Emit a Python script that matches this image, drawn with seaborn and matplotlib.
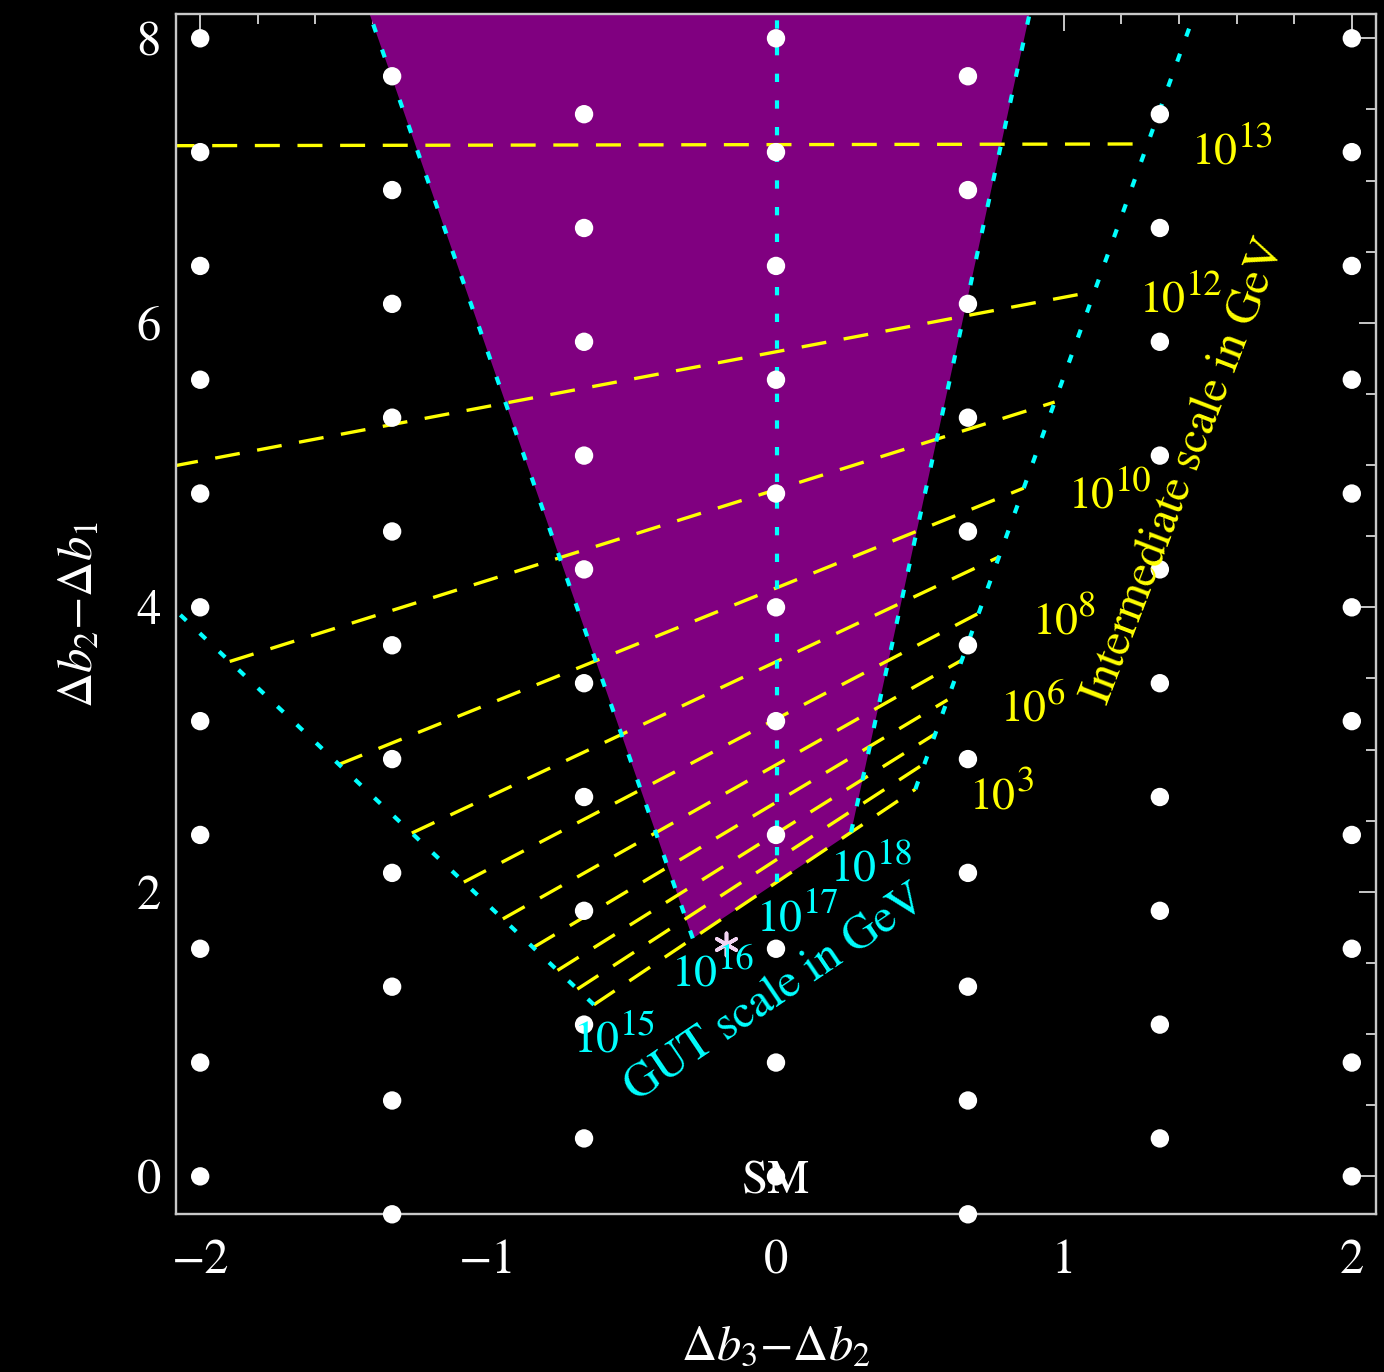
import matplotlib
matplotlib.use("Agg")
import matplotlib.pyplot as plt
from matplotlib.ticker import MultipleLocator
import numpy as np
import pandas as pd
import seaborn as sns

# ---------------------------------------------------------------------------
# Lattice of allowed (Δb3-Δb2, Δb2-Δb1) points
# ---------------------------------------------------------------------------
lattice_columns_x = [-2.0, -1.3333, -0.6667, 0.0, 0.6667, 1.3333, 2.0]
lattice_rows_a = [0.0, 0.8, 1.6, 2.4, 3.2, 4.0, 4.8, 5.6, 6.4, 7.2, 8.0]
lattice_rows_b = [-0.2667, 0.5333, 1.3333, 2.1333, 2.9333, 3.7333, 4.5333,
                  5.3333, 6.1333, 6.9333, 7.7333]
lattice_rows_c = [0.2667, 1.0667, 1.8667, 2.6667, 3.4667, 4.2667, 5.0667,
                  5.8667, 6.6667, 7.4667]
lattice_column_rows = ["a", "b", "c", "a", "b", "c", "a"]

# ---------------------------------------------------------------------------
# Contours of constant intermediate scale (yellow, dashed), 10^3 ... 10^13 GeV
# each runs from the 10^15 GeV GUT contour to the 10^19 GeV GUT contour
# ---------------------------------------------------------------------------
mi_exponents = [3, 4, 5, 6, 7, 8, 9, 10, 11, 12, 13]
mi_x_start = [-0.6325, -0.6900, -0.7590, -0.8433, -0.9487, -1.0843, -1.2650,
              -1.5180, -1.8974, -2.5299, -3.7949]
mi_y_start = [1.2065, 1.3162, 1.4478, 1.6087, 1.8098, 2.0683, 2.4130,
              2.8957, 3.6195, 4.8260, 7.2391]
mi_x_end = [0.4840, 0.5162, 0.5531, 0.5957, 0.6453, 0.7040, 0.7743,
            0.8604, 0.9679, 1.1062, 1.2906]
mi_y_end = [2.7215, 2.9030, 3.1103, 3.3496, 3.6287, 3.9586, 4.3544,
            4.8383, 5.4431, 6.2206, 7.2574]

# ---------------------------------------------------------------------------
# Contours of constant GUT scale (cyan, dotted), 10^15 ... 10^19 GeV
# ---------------------------------------------------------------------------
mg_exponents = [15, 16, 17, 18, 19]
mg_x_start = [-0.6325, -0.2890, 0.0050, 0.2607, 0.4840]
mg_y_start = [1.2065, 1.6727, 2.0722, 2.4185, 2.7215]
mg_x_end = [-2.5000, -1.5548, 0.0050, 0.9700, 1.6004]
mg_y_end = [4.7690, 9.0000, 9.0000, 9.0000, 9.0000]

# Labels for the contours
mi_label_text = ["13", "12", "10", "8", "6", "3"]
mi_label_x = [1.446, 1.264, 1.018, 0.891, 0.782, 0.675]
mi_label_y = [7.110, 6.070, 4.692, 3.806, 3.195, 2.577]

mg_label_text = ["15", "16", "17", "18"]
mg_label_x = [-0.701, -0.360, -0.065, 0.192]
mg_label_y = [0.869, 1.333, 1.720, 2.072]

# Marked model point
star_x = [-0.173]
star_y = [1.634]

# Tick labels
x_ticks = [-2, -1, 0, 1, 2]
y_ticks = [0, 2, 4, 6, 8]

# ---------------------------------------------------------------------------
YELLOW = "#ffff00"
CYAN = "#00ffff"
PURPLE = "#800080"
FRAME = "#c8c8c8"

sns.set_theme(style="white", rc={
    "figure.facecolor": "black",
    "axes.facecolor": "black",
    "savefig.facecolor": "black",
    "axes.edgecolor": FRAME,
    "axes.linewidth": 1.7,
    "text.color": "white",
    "axes.labelcolor": "white",
    "xtick.color": FRAME,
    "ytick.color": FRAME,
    "xtick.labelcolor": "white",
    "ytick.labelcolor": "white",
    "mathtext.fontset": "stix",
    "lines.scale_dashes": False,
    "axes.grid": False,
})
plt.rcParams["font.family"] = ["STIXGeneral", "DejaVu Sans"]

fig = plt.figure(figsize=(13.84, 13.72), dpi=100)
ax = fig.add_axes([176 / 1384, 1 - 1214.3 / 1372, 1200 / 1384, 1200.3 / 1372])

# Allowed region: GUT scale between 10^16 and 10^18 GeV, M_I above 10^3 GeV
i16, i18 = mg_exponents.index(16), mg_exponents.index(18)
region_x = [mg_x_start[i16], mg_x_end[i16], mg_x_end[i18], mg_x_start[i18]]
region_y = [mg_y_start[i16], mg_y_end[i16], mg_y_end[i18], mg_y_start[i18]]
ax.fill(region_x, region_y, color=PURPLE, lw=0, zorder=1)


def segments(xs0, ys0, xs1, ys1, tags):
    rows = []
    for a, b, c, d, t in zip(xs0, ys0, xs1, ys1, tags):
        rows.append({"x": a, "y": b, "seg": t})
        rows.append({"x": c, "y": d, "seg": t})
    return pd.DataFrame(rows)


def draw_lines(df, color, lw, dashes, z):
    before = len(ax.lines)
    sns.lineplot(data=df, x="x", y="y", units="seg", estimator=None,
                 sort=False, color=color, lw=lw, ax=ax, zorder=z)
    for ln in ax.lines[before:]:
        ln.set_dashes(dashes)
        ln.set_dash_capstyle("butt")


mi_df = segments(mi_x_start, mi_y_start, mi_x_end, mi_y_end, mi_exponents)
draw_lines(mi_df, YELLOW, 2.4, (18, 12.7), 2)

mg_df = segments(mg_x_start, mg_y_start, mg_x_end, mg_y_end, mg_exponents)
draw_lines(mg_df, CYAN, 3.0, (6, 13.2), 2.5)

# Lattice points
pts = []
row_sets = {"a": lattice_rows_a, "b": lattice_rows_b, "c": lattice_rows_c}
for cx, key in zip(lattice_columns_x, lattice_column_rows):
    for cy in row_sets[key]:
        pts.append({"x": cx, "y": cy})
pts = pd.DataFrame(pts)
sns.scatterplot(data=pts, x="x", y="y", s=175, color="white", edgecolor="none",
                linewidth=0, ax=ax, zorder=3, clip_on=False, legend=False)

# Marked point
ax.scatter(star_x, star_y, marker=(6, 2, 0), s=260, color="#f2d4f2",
           linewidths=2.6, zorder=4)


def power_label(x, y, exponent, color, size=33):
    """Draw '10' followed by a raised exponent, anchored at its baseline."""
    ax.text(x, y, "10", color=color, fontsize=size, ha="left",
            va="baseline", zorder=5)
    ax.annotate(exponent, xy=(x, y), xytext=(1.0 * size, 0.40 * size),
                textcoords="offset points", color=color,
                fontsize=0.8 * size, ha="left", va="baseline", zorder=5)


for t, lx, ly in zip(mi_label_text, mi_label_x, mi_label_y):
    power_label(lx, ly, t, YELLOW)
for t, lx, ly in zip(mg_label_text, mg_label_x, mg_label_y):
    power_label(lx, ly, t, CYAN)

ax.text(1.420, 4.960, "Intermediate scale in GeV", color=YELLOW, fontsize=34,
        rotation=69, rotation_mode="anchor", ha="center", va="center", zorder=5)
ax.text(-0.002, 1.285, "GUT scale in GeV", color=CYAN, fontsize=34,
        rotation=34, rotation_mode="anchor", ha="center", va="center", zorder=5)

ax.annotate("SM", xy=(0, 0), xytext=(0, -12), textcoords="offset points",
            ha="center", va="baseline", color="white", fontsize=34, zorder=5)

# Axes
ax.set_xlim(-2.084, 2.084)
ax.set_ylim(-0.2667, 8.171)
ax.set_xticks(x_ticks)
ax.set_yticks(y_ticks)
ax.xaxis.set_minor_locator(MultipleLocator(0.2))
ax.yaxis.set_minor_locator(MultipleLocator(0.5))
ax.tick_params(which="both", direction="in", top=True, right=True,
               color=FRAME, width=1.4)
ax.tick_params(which="major", length=12)
ax.tick_params(which="minor", length=7)
ax.tick_params(axis="x", which="major", pad=18, labelsize=35)
ax.tick_params(axis="y", which="major", pad=11, labelsize=35)
for s in ax.spines.values():
    s.set_color(FRAME)

ax.set_xlabel(r"$\Delta b_3$" + "\u2212" + r"$\Delta b_2$", fontsize=35,
              labelpad=30)
ax.set_ylabel(r"$\Delta b_2$" + "\u2212" + r"$\Delta b_1$", fontsize=35,
              labelpad=24)

fig.savefig("out.png", dpi=100, facecolor="black")
